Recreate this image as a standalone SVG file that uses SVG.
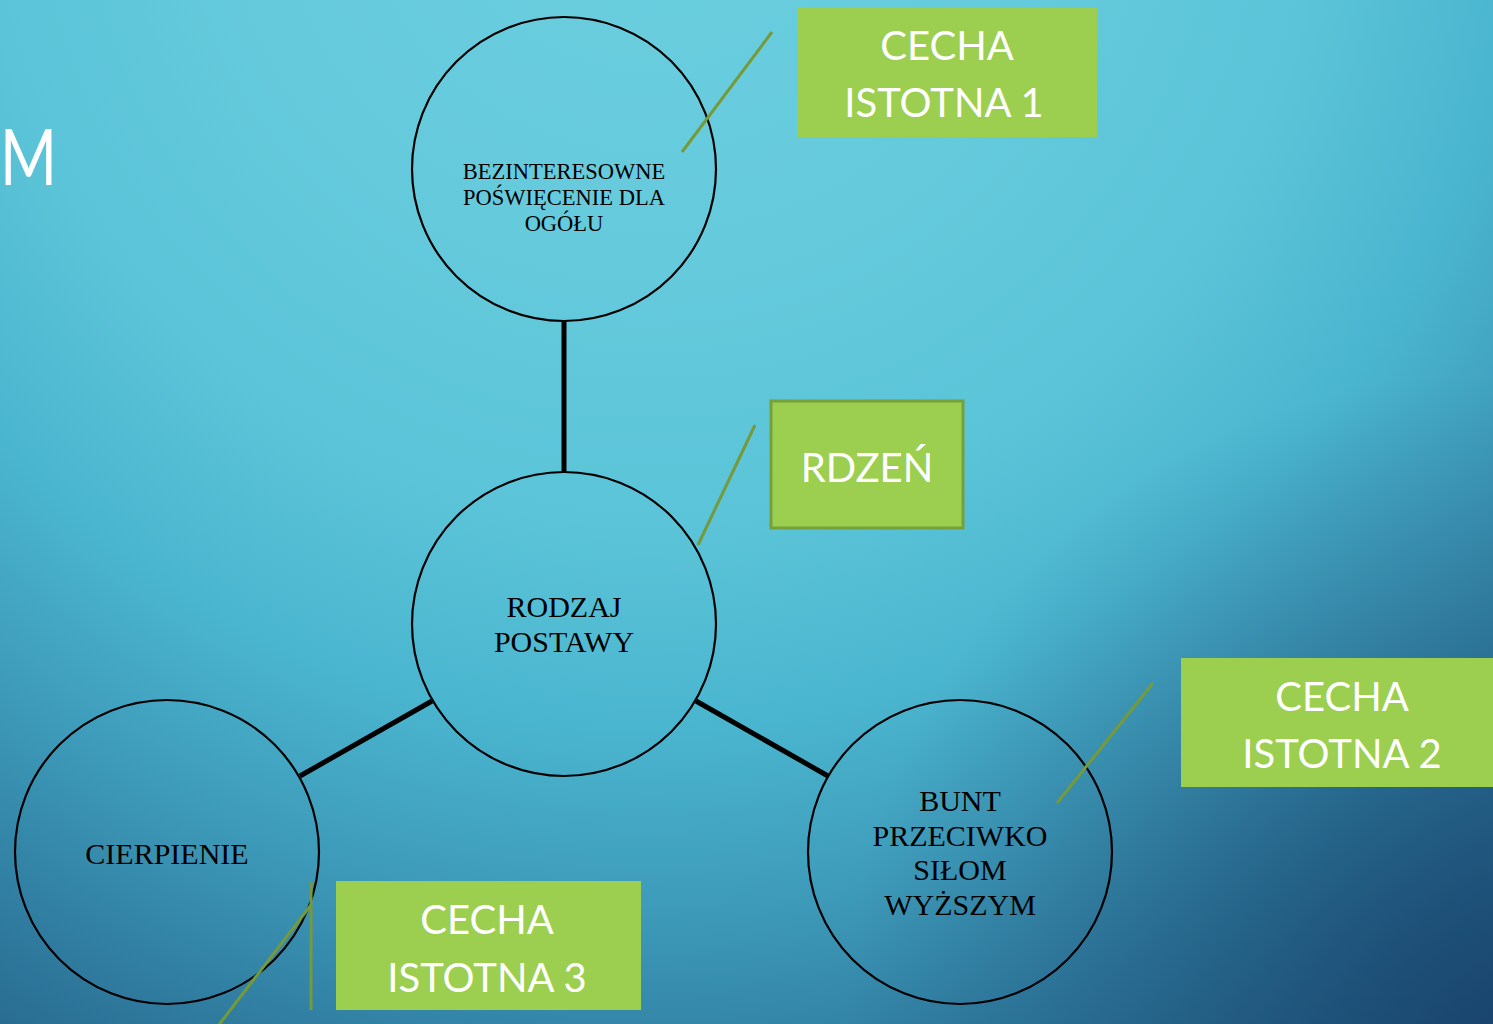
<svg xmlns="http://www.w3.org/2000/svg" width="1493" height="1024" viewBox="0 0 1493 1024">
  <defs>
    <radialGradient id="bg" gradientUnits="userSpaceOnUse" cx="650" cy="-150" r="1600">
      <stop offset="0" stop-color="#6bcfdf"/>
      <stop offset="0.25" stop-color="#65cadc"/>
      <stop offset="0.42" stop-color="#5bc4d8"/>
      <stop offset="0.55" stop-color="#4ab5cf"/>
      <stop offset="0.66" stop-color="#3e9bba"/>
      <stop offset="0.76" stop-color="#3180a3"/>
      <stop offset="0.86" stop-color="#27678d"/>
      <stop offset="0.95" stop-color="#1d4f77"/>
      <stop offset="1" stop-color="#18436c"/>
    </radialGradient>
    <radialGradient id="shade" gradientUnits="userSpaceOnUse" cx="1493" cy="1024" r="650">
      <stop offset="0" stop-color="#163d66" stop-opacity="0.75"/>
      <stop offset="0.5" stop-color="#163d66" stop-opacity="0.35"/>
      <stop offset="1" stop-color="#163d66" stop-opacity="0"/>
    </radialGradient>
    <style>
      .node circle { fill: none; stroke: #000; stroke-width: 2.2; }
      .ntext { font-family: "Liberation Serif", "Times New Roman", serif; fill: #000; text-anchor: middle; }
      .box { fill: #9ccf4f; }
      .btext { font-family: Lato, "Open Sans", sans-serif; font-size: 40px; fill: #fff; text-anchor: middle; }
      .callout { stroke: #76993a; stroke-width: 3; fill: none; }
      .conn { stroke: #000; stroke-width: 5; fill: none; }
    </style>
  </defs>
  <rect x="0" y="0" width="1493" height="1024" fill="url(#bg)"/>
  <rect x="0" y="0" width="1493" height="1024" fill="url(#shade)"/>

  <text x="0" y="185" font-family="Lato, sans-serif" font-size="78" fill="#fff" textLength="57" lengthAdjust="spacingAndGlyphs">M</text>

  <g id="connectors">
    <line class="conn" x1="564" y1="321" x2="564" y2="472"/>
    <line class="conn" x1="432" y1="701" x2="300" y2="776"/>
    <line class="conn" x1="696" y1="701" x2="828" y2="776"/>
  </g>

  <g id="node-top" class="node">
    <circle cx="564" cy="169" r="152"/>
    <text class="ntext" font-size="22.5"><tspan x="564" y="179">BEZINTERESOWNE</tspan><tspan x="564" y="205">POŚWIĘCENIE DLA</tspan><tspan x="564" y="231">OGÓŁU</tspan></text>
  </g>

  <g id="node-center" class="node">
    <circle cx="564" cy="624" r="152"/>
    <text class="ntext" font-size="30"><tspan x="564" y="617">RODZAJ</tspan><tspan x="564" y="652">POSTAWY</tspan></text>
  </g>

  <g id="node-left" class="node">
    <circle cx="167" cy="852" r="152"/>
    <text class="ntext" font-size="30" x="167" y="864">CIERPIENIE</text>
  </g>

  <g id="node-right" class="node">
    <circle cx="960" cy="852" r="152"/>
    <text class="ntext" font-size="30"><tspan x="960" y="811">BUNT</tspan><tspan x="960" y="846">PRZECIWKO</tspan><tspan x="960" y="880">SIŁOM</tspan><tspan x="960" y="915">WYŻSZYM</tspan></text>
  </g>

  <g id="label-1">
    <rect class="box" x="797" y="8" width="300" height="129"/>
    <line class="callout" x1="772" y1="32" x2="682" y2="152"/>
    <text class="btext"><tspan x="947" y="60">CECHA</tspan><tspan x="944" y="117">ISTOTNA 1</tspan></text>
  </g>

  <g id="label-core">
    <rect class="box" x="771" y="401" width="192" height="127" stroke="#76a03a" stroke-width="3"/>
    <line class="callout" x1="755" y1="425" x2="698" y2="545"/>
    <text class="btext" x="867" y="482">RDZEŃ</text>
  </g>

  <g id="label-2">
    <rect class="box" x="1181" y="658" width="312" height="129"/>
    <line class="callout" x1="1153" y1="683" x2="1057" y2="803"/>
    <text class="btext"><tspan x="1342" y="711">CECHA</tspan><tspan x="1342" y="768">ISTOTNA 2</tspan></text>
  </g>

  <g id="label-3">
    <rect class="box" x="336" y="881" width="305" height="129"/>
    <line class="callout" x1="311" y1="882" x2="311" y2="1010"/>
    <line class="callout" x1="311" y1="905" x2="218" y2="1026"/>
    <text class="btext"><tspan x="487" y="934">CECHA</tspan><tspan x="487" y="992">ISTOTNA 3</tspan></text>
  </g>
</svg>
